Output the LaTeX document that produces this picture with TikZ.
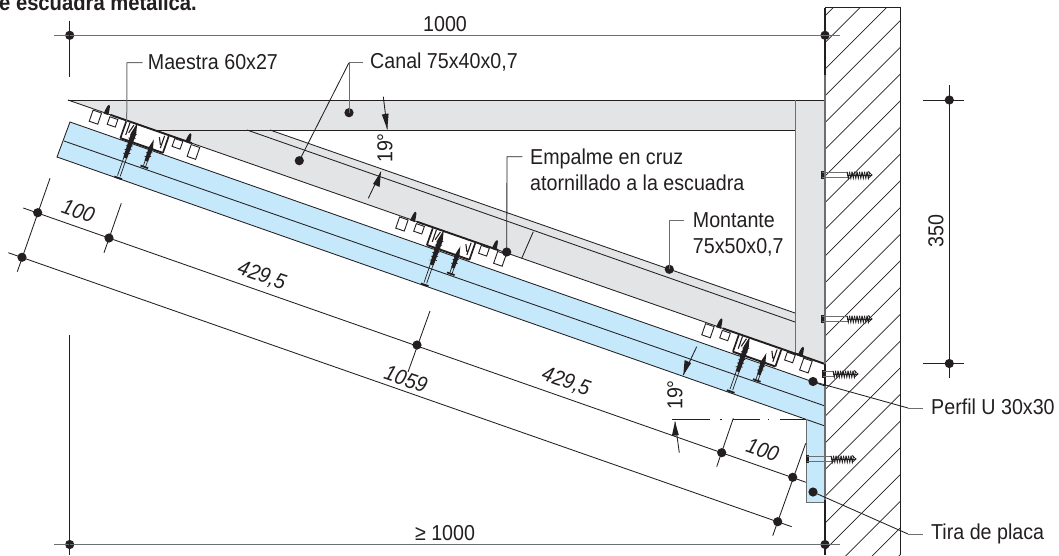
\documentclass[tikz,border=0pt]{standalone}
\usepackage{fontspec}
\setmainfont[FakeStretch=0.91]{Liberation Sans}
\definecolor{ink}{HTML}{231F20}
\definecolor{greyfill}{HTML}{E3E4E5}
\definecolor{bluefill}{HTML}{C5E8FA}
\definecolor{midgrey}{HTML}{6D6E71}
\newcommand{\dowel}[3]{%
  \fill[ink] (#1-1,#3-4) rectangle (#1+1.5,#3+4);
  \draw[midgrey,line width=.8pt] (#1,#3-2.8) -- (#2-24,#3-2.8) (#1,#3+2.8) -- (#2-24,#3+2.8);
  \foreach \i in {0,2.5,...,20}{\draw[ink,line width=.9pt] (#2-25+\i,#3-3.2) -- (#2-23.7+\i,#3+3.2) -- (#2-22.4+\i,#3-3.2);}
  \draw[ink,line width=1pt] (#2-25,#3) -- (#2,#3);
  \draw[ink,line width=.8pt] (#2-4,#3-3.5) -- (#2,#3) -- (#2-4,#3+3.5);
}
\tikzset{
  thinline/.style={ink,line width=.85pt},
  greyline/.style={midgrey,line width=1pt},
  dot/.style={circle,fill=ink,draw=none,inner sep=0pt,minimum size=9.2pt},
  label/.style={inner sep=0pt,text=ink,font=\fontsize{21.6}{26.3}\selectfont},
  dimtext/.style={inner sep=0pt,text=ink,font=\fontsize{21.6}{26}\selectfont\itshape,rotate=-19},
  clipbox/.style={ink,line width=.9pt,fill=white},
  fixing/.pic={
    \draw[ink,line width=1.9pt] (-36,0) -- (50,0);
    \draw[ink,line width=1.9pt] (-19,18.7) -- (26,18.7);
    \draw[clipbox] (-54,1.2) rectangle (-45,13);
    \draw[clipbox] (-36,2) rectangle (-27.5,10);
    \draw[clipbox] (32.5,1.2) rectangle (41,9.5);
    \draw[clipbox] (50,1.5) rectangle (59,14);
    \fill[ink] (-43,1) .. controls (-42.5,-4) and (-42,-9) .. (-40.5,-9) .. controls (-39,-9) and (-38.5,-4) .. (-38,1) -- cycle;
    \fill[ink] (43.3,1) .. controls (43.8,-4) and (44.3,-9) .. (45.8,-9) .. controls (47.3,-9) and (47.8,-4) .. (48.3,1) -- cycle;
    % profile ends
    \draw[ink,line width=1.7pt] (-19,1) -- (-19,18.7);
    \draw[ink,line width=1.1pt] (-15,1) -- (-15,14) (-10.5,2) -- (-13,11);
    \draw[ink,line width=1.7pt] (26,1) -- (26,18.7);
    \draw[ink,line width=1.1pt] (22,2) -- (22,15) (17.5,5) -- (21,12);
    % long screw
    \fill[ink] (-8,-1) -- (-5.4,10) -- (-6,36) -- (-10,36) -- (-10.6,10) -- cycle;
    \foreach \v in {12,16,...,34}{\draw[ink,line width=.7pt] (-11.4,\v) -- (-4.6,\v-2);}
    \draw[ink,line width=.7pt] (-9.4,36) -- (-9.4,55) (-6.6,36) -- (-6.6,55);
    \draw[ink,line width=1.8pt] (-12,57) -- (-4,57);
    % short screw
    \fill[ink] (13,9) -- (15.2,18) -- (14.8,32) -- (11.2,32) -- (10.8,18) -- cycle;
    \foreach \v in {20,24,28}{\draw[ink,line width=.7pt] (10,\v) -- (16,\v-2);}
    \draw[ink,line width=.7pt] (11.8,32) -- (11.8,37) (14.2,32) -- (14.2,37);
    \draw[ink,line width=1.8pt] (9,38) -- (17,38);
  }
}
\begin{document}
\begin{tikzpicture}[x=1pt,y=-1pt]
\useasboundingbox (0,0) rectangle (1059,555);
% wall hatching
\begin{scope}
  \clip (825,7.5) rectangle (900,555);
  \foreach \c in {840.8,867.5,...,1470}{\draw[ink,line width=.7pt] (825,\c-825) -- (\c-7.5,7.5);}
\end{scope}
\draw[ink,line width=.85pt] (825,7.5) -- (900,7.5) -- (900,555);
% grey channel, post and bar
\fill[greyfill] (68,100) -- (825,100) -- (825,364) -- cycle;
\fill[white] (270,130) -- (795,130) -- (795,313) -- cycle;
% blue plates
\fill[bluefill] (70,122) -- (825,386) -- (825,426) -- (57,157) -- cycle;
\fill[bluefill] (806,419) rectangle (825,502);
\draw[thinline] (825,386) -- (70,122) -- (57,157) -- (825,426);
\draw[thinline] (64,141) -- (825,406);
\draw[greyline] (806,419) -- (806,502) -- (825,502);
% channel outlines
\draw[thinline] (68,100) -- (825,100);
\draw[thinline] (68,100) -- (825,364);
\draw[thinline] (155,130) -- (795,130);
\draw[greyline] (795,100) -- (795,353.5);
\draw[thinline] (270,130) -- (795,313);
\draw[thinline] (247,130) -- (795,322);
\coordinate (tickA) at (533.3,231.7);
\coordinate (tickB) at (521.7,258.3);
\draw[thinline] (tickA) -- (tickB);
% fixings
\pic[rotate=-19.2] at (144.5,126.7) {fixing};
\pic[rotate=-19.2] at (451,233.6) {fixing};
\pic[rotate=-19.2] at (757,340.3) {fixing};
\draw[ink,line width=1.9pt] (795,353.5) -- (825,364);
% wall face
\draw[midgrey,line width=1.3pt] (825,7.5) -- (825,555);
\draw[ink,line width=1.3pt] (825,7.5) -- (825,75) (825,364) -- (825,386) (825,500) -- (825,555);
% dowels
\dowel{822}{872}{175}
\dowel{822}{872}{319}
\dowel{823}{858}{374}
\dowel{807}{856}{459}
% dimension: 1000
\node[dot] (topL) at (69.7,35.3) {};
\node[dot] (topR) at (825,35.3) {};
\coordinate (topLend) at (54.3,35.3);
\coordinate (topRend) at (840,35.3);
\coordinate (topLup) at (69.7,20.7);
\coordinate (topLdn) at (69.7,77.3);
\draw[greyline] (topLend) -- (topRend);
\draw[thinline] (topLup) -- (topLdn);
\node[label] (t1000) at (445,24) {1000};
% dimension: >= 1000
\node[dot] (botL) at (69.7,544.5) {};
\node[dot] (botR) at (825,544.5) {};
\coordinate (botLend) at (54.3,544.5);
\coordinate (botRend) at (840,544.5);
\coordinate (botLup) at (69.7,335);
\coordinate (botLdn) at (69.7,555);
\draw[greyline] (botLend) -- (botRend);
\draw[thinline] (botLup) -- (botLdn);
\node[label] (t1000b) at (445,533) {≥ 1000};
% dimension: 350
\node[dot] (rT) at (949.3,100) {};
\node[dot] (rB) at (949.3,363.5) {};
\coordinate (rTl) at (923,100);
\coordinate (rTr) at (964.3,100);
\coordinate (rBl) at (923,363.5);
\coordinate (rBr) at (964.3,363.5);
\coordinate (rUp) at (949.3,85);
\coordinate (rDn) at (949.3,378);
\draw[thinline] (rTl) -- (rTr) (rBl) -- (rBr) (rUp) -- (rDn);
\node[label,rotate=90] (t350) at (936,230.7) {350};
% slanted dimensions
\node[dot] (a1) at (37.7,212.7) {};
\node[dot] (a2) at (109,238) {};
\node[dot] (a3) at (417,345) {};
\node[dot] (a4) at (721.7,452.7) {};
\node[dot] (a5) at (792.7,477.3) {};
\node[dot] (b1) at (22,257.3) {};
\node[dot] (b2) at (777.7,521.7) {};
\coordinate (a0) at (23.3,208);
\coordinate (a6) at (806,482.3);
\coordinate (b0) at (8.3,252.7);
\coordinate (b3) at (791.7,526.7);
\draw[thinline] (a0) -- (a6);
\draw[thinline] (b0) -- (b3);
\coordinate (k1) at (50,178.3);
\coordinate (k2) at (17.3,271.7);
\coordinate (k3) at (121.3,203.3);
\coordinate (k4) at (104,252.7);
\coordinate (k5) at (430,311);
\coordinate (k6) at (408,372);
\coordinate (k7) at (733.3,418.3);
\coordinate (k8) at (716.7,466.7);
\coordinate (k9) at (805.7,443.3);
\coordinate (k10) at (772.7,535.7);
\draw[thinline] (k1) -- (k2) (k3) -- (k4) (k5) -- (k6) (k7) -- (k8) (k9) -- (k10);
\node[dimtext] (d100a) at (78.3,211) {100};
\node[dimtext] (d429a) at (261.7,276) {429,5};
\node[dimtext] (d1059) at (406,379) {1059};
\node[dimtext] (d429b) at (566,382) {429,5};
\node[dimtext] (d100b) at (762.7,450) {100};
% angle marks
\coordinate (ang1a) at (383.3,96.7);
\coordinate (ang1b) at (387.3,129.3);
\coordinate (ang2a) at (368.3,198.3);
\coordinate (ang2b) at (381,171.7);
\coordinate (ang3a) at (696.7,346.7);
\coordinate (ang3b) at (683.3,375);
\coordinate (ang4a) at (679.3,452.7);
\coordinate (ang4b) at (675,421.7);
\draw[ink,line width=.95pt] (672.3,419.3) -- (710,419.3) (720,419.3) -- (721.5,419.3) (733,419.3) -- (760,419.3) (767.5,419.3) -- (769,419.3) (780,419.3) -- (805.7,419.3);
\foreach \p/\q in {ang1a/ang1b,ang2a/ang2b,ang3a/ang3b,ang4a/ang4b}{
  \draw[thinline] (\p) -- (\q);
}
\fill[ink] (387.3,129.3) -- (381.8,114.5) -- (388.6,113.5) -- cycle;
\fill[ink] (381,171.7) -- (379.6,187) -- (373,184) -- cycle;
\fill[ink] (683.3,375) -- (684.6,360) -- (691.2,363) -- cycle;
\fill[ink] (675,421.7) -- (671.8,436) -- (678.8,435) -- cycle;
\node[label,rotate=90] (a19a) at (385,148) {19°};
\node[label,rotate=90] (a19b) at (675,395) {19°};
% leaders and labels
\node[label,anchor=west] (tMaestra) at (147.7,62.3) {Maestra 60x27};
\coordinate (pMaestra) at (126.7,122);
\coordinate (cMaestra) at (127,62.7);
\coordinate (eMaestra) at (142.7,62.7);
\draw[greyline] (eMaestra) -- (cMaestra) -- (pMaestra);
\node[label,anchor=west] (tCanal) at (370,62.3) {Canal 75x40x0,7};
\node[dot] (pCanal1) at (349,112.7) {};
\node[dot] (pCanal2) at (299.3,160.7) {};
\coordinate (cCanal) at (349,62.7);
\coordinate (eCanal) at (363.3,62.7);
\draw[greyline] (eCanal) -- (cCanal) -- (pCanal1.center);
\draw[thinline] (cCanal) -- (pCanal2.center);
\node[label,anchor=north west,align=left] (tEmpalme) at (530,148.5) {Empalme en cruz\\atornillado a la escuadra};
\node[dot] (pEmpalme) at (506.7,252) {};
\coordinate (cEmpalme) at (507,156.7);
\coordinate (eEmpalme) at (522.3,156.7);
\draw[thinline] (eEmpalme) -- (cEmpalme) -- (pEmpalme.center);
\node[label,anchor=north west,align=left] (tMontante) at (692.7,212) {Montante\\75x50x0,7};
\node[dot] (pMontante) at (669.3,269.3) {};
\coordinate (cMontante) at (669.3,220.7);
\coordinate (eMontante) at (684.3,220.7);
\draw[greyline] (eMontante) -- (cMontante) -- (pMontante.center);
\node[label,anchor=west] (tPerfil) at (931,407) {Perfil U 30x30};
\node[dot] (pPerfil) at (813,381.5) {};
\coordinate (cPerfil) at (908,408);
\coordinate (ePerfil) at (923,408);
\draw[thinline] (pPerfil.center) -- (cPerfil);
\draw[greyline] (cPerfil) -- (ePerfil);
\node[label,anchor=west] (tTira) at (931,534) {Tira de placa};
\node[dot] (pTira) at (813,492) {};
\coordinate (cTira) at (908,534);
\coordinate (eTira) at (923,534);
\draw[thinline] (pTira.center) -- (cTira);
\draw[greyline] (cTira) -- (eTira);
\node[anchor=base west,inner sep=0pt,text=ink,font=\fontsize{22.2}{26}\selectfont\bfseries] (title) at (-1,10) {e escuadra metálica.};
\end{tikzpicture}
\end{document}
